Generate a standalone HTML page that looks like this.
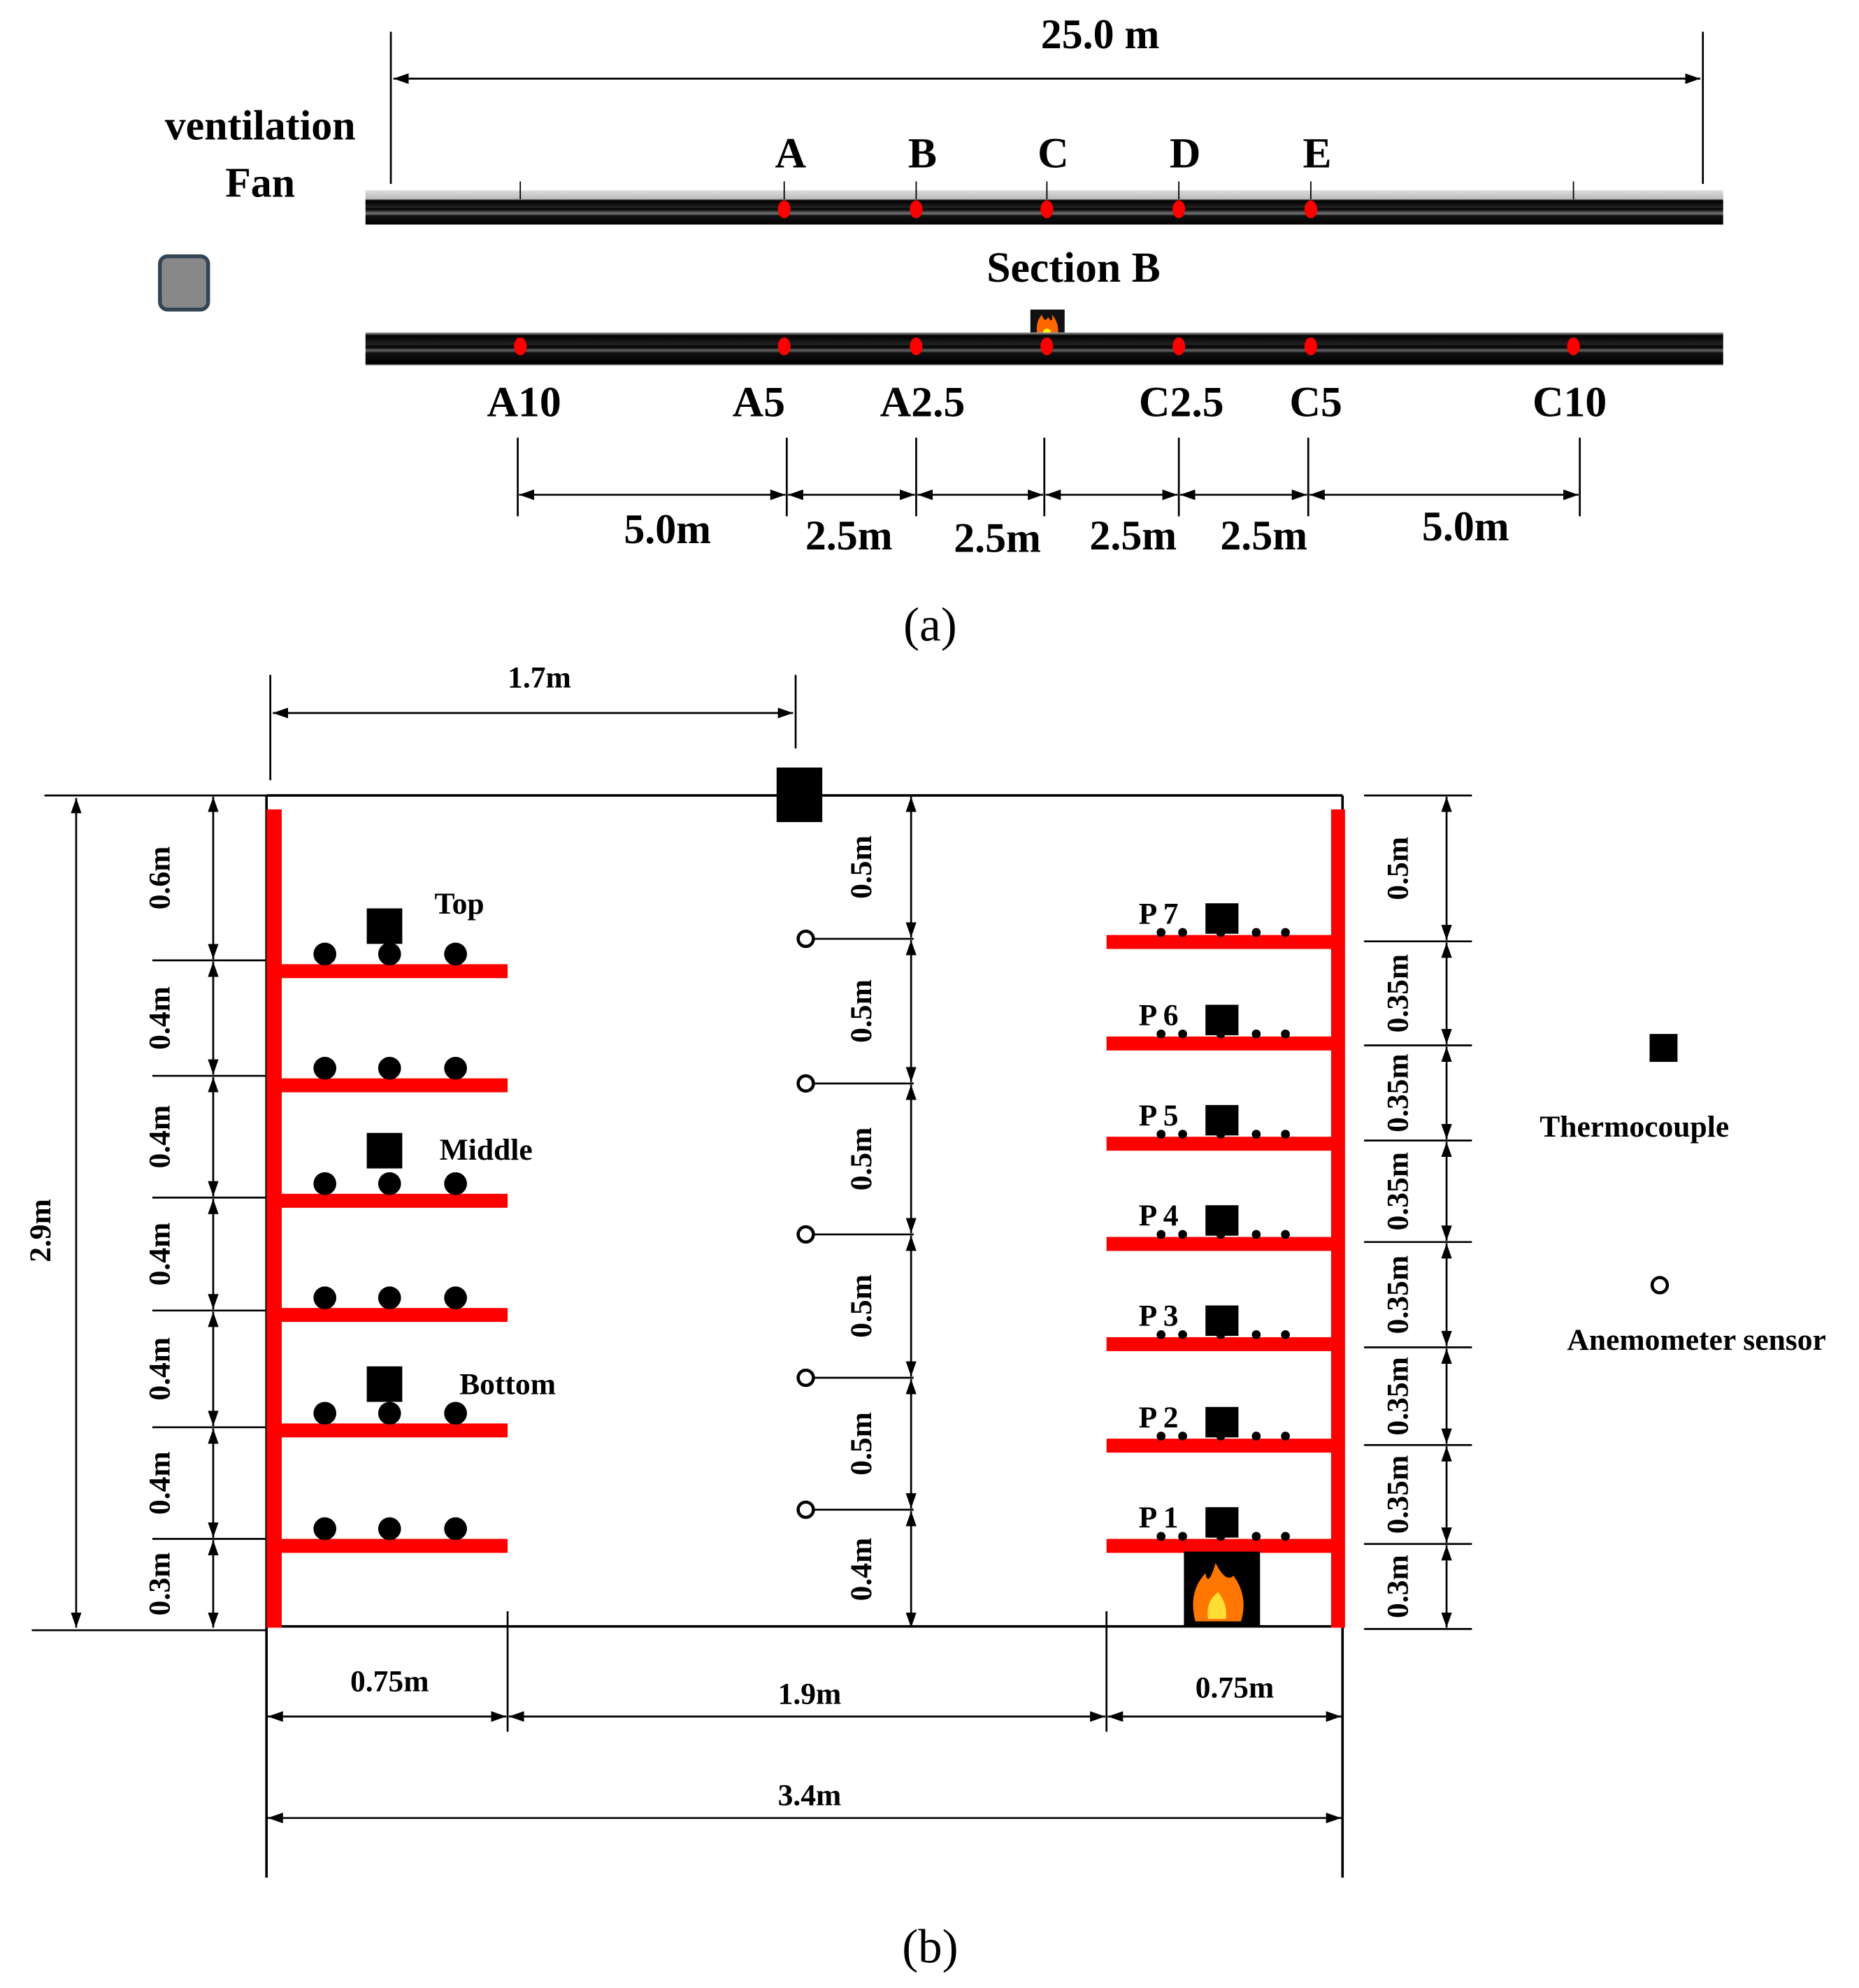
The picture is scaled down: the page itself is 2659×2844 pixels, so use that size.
<!DOCTYPE html>
<html><head><meta charset="utf-8">
<style>html,body{margin:0;padding:0;background:#fff}svg{display:block}
text{font-family:"Liberation Serif",serif;font-weight:bold;fill:#000}</style></head>
<body>
<svg id="s" width="2659" height="2844" viewBox="0 0 1465 1567" xmlns="http://www.w3.org/2000/svg">
<defs>
<marker id="ar" viewBox="0 0 10 10" refX="10" refY="5" markerWidth="7" markerHeight="7" markerUnits="userSpaceOnUse" orient="auto-start-reverse"><path d="M0,0 L10,5 L0,10z" fill="#000"/></marker>
<marker id="ab" viewBox="0 0 10 10" refX="10" refY="5" markerWidth="12" markerHeight="12" markerUnits="userSpaceOnUse" orient="auto-start-reverse"><path d="M0,1.5 L10,5 L0,8.5z" fill="#000"/></marker>
<linearGradient id="tg" x1="0" y1="0" x2="0" y2="1">
<stop offset="0" stop-color="#ddd"/><stop offset="0.25" stop-color="#bbb"/><stop offset="0.3" stop-color="#000"/><stop offset="0.5" stop-color="#222"/><stop offset="0.55" stop-color="#000"/><stop offset="0.68" stop-color="#777"/><stop offset="0.74" stop-color="#111"/><stop offset="1" stop-color="#000"/></linearGradient>
<linearGradient id="tg2" x1="0" y1="0" x2="0" y2="1">
<stop offset="0" stop-color="#aaa"/><stop offset="0.1" stop-color="#000"/><stop offset="0.35" stop-color="#222"/><stop offset="0.45" stop-color="#000"/><stop offset="0.55" stop-color="#666"/><stop offset="0.62" stop-color="#111"/><stop offset="0.95" stop-color="#000"/><stop offset="1" stop-color="#aaa"/></linearGradient>
</defs>
<g id="g"></g>
</svg>
<script>
var o='';
function L(x1,y1,x2,y2,w,a){o+='<line x1="'+x1+'" y1="'+y1+'" x2="'+x2+'" y2="'+y2+'" stroke="#000" stroke-width="'+(w||1.5)+'"'+(a?' marker-start="url(#'+a+')" marker-end="url(#'+a+')"':'')+'/>';}
function R(x,y,w,h,f){o+='<rect x="'+x+'" y="'+y+'" width="'+w+'" height="'+h+'" fill="'+f+'"/>';}
function C(x,y,r,f,s){o+='<circle cx="'+x+'" cy="'+y+'" r="'+r+'" fill="'+f+'"'+(s?' stroke="#000" stroke-width="2.5"':'')+'/>';}
function T(x,y,t,sz,rot,nb){o+='<text x="'+x+'" y="'+y+'" font-size="'+sz+'" text-anchor="middle"'+(rot?' transform="rotate(-90 '+x+' '+y+')" dominant-baseline="middle"':'')+(nb?' style="font-weight:normal"':'')+'>'+t+'</text>';}
// part a
L(308,25,308,145);L(1342,25,1342,145);L(310,62,1340,62,1.5,'ab');
T(867,38,'25.0 m',33);T(205,110,'ventilation',33);T(205,155,'Fan',33);
R(288,150,1070,27,'url(#tg)');
[410,618,722,825,929,1033,1240].forEach(function(x){L(x,143,x,157,1)});
var tx=[618,722,825,929,1033],tl='ABCDE';
tx.forEach(function(x,i){o+='<ellipse cx="'+x+'" cy="165" rx="5" ry="7" fill="red"/>';T(x+5,132,tl[i],34)});
o+='<rect x="126" y="202" width="38" height="42" rx="6" fill="#888" stroke="#345" stroke-width="3"/>';
T(846,222,'Section B',34);
R(812,244,27,24,'#111');o+='<path d="M818,266 Q815,255 821,248 Q823,255 826,250 Q830,256 829,248 Q836,256 833,266z" fill="#f60"/><circle cx="825" cy="262" r="3" fill="#ff0"/>';
R(288,262,1070,26,'url(#tg2)');
[410,618,722,825,929,1033,1240].forEach(function(x){o+='<ellipse cx="'+x+'" cy="273" rx="5" ry="7" fill="red"/>'});
[[413,'A10'],[598,'A5'],[727,'A2.5'],[931,'C2.5'],[1037,'C5'],[1237,'C10']].forEach(function(a){T(a[0],328,a[1],34)});
var vx=[408,620,722,823,929,1031,1245];vx.forEach(function(x){L(x,345,x,407)});
for(var i=0;i<6;i++)L(vx[i]+1,390,vx[i+1]-1,390,1.5,'ab');
[[526,428,'5.0m'],[669,433,'2.5m'],[786,435,'2.5m'],[893,433,'2.5m'],[996,433,'2.5m'],[1155,426,'5.0m']].forEach(function(a){T(a[0],a[1],a[2],33)});
T(733,505,'(a)',38,0,1);
// part b
L(213,532,213,615);L(627,532,627,590);L(215,562,625,562,1.5,'ab');T(425,542,'1.7m',24);
L(210,627,1058,627,2);L(210,627,210,1480,2);L(1058,627,1058,1480,2);L(210,1282,1058,1282,2);
L(35,627,210,627);L(25,1285,210,1285);L(60,629,60,1283,1.5,'ab');T(34,970,'2.9m',24,1);
R(210,638,12,645,'red');
[765,855,946,1036,1127,1218].forEach(function(y){R(218,y-5,182,11,'red');[256,307,359].forEach(function(x){C(x,y-13,9,'#000')})});
R(289,716,28,28,'#000');R(289,893,28,28,'#000');R(289,1077,28,28,'#000');
T(362,720,'Top',24);T(383,914,'Middle',24);T(400,1099,'Bottom',24);
var ly=[627,757,848,944,1033,1125,1213,1284],ll=['0.6m','0.4m','0.4m','0.4m','0.4m','0.4m','0.3m'];
ly.forEach(function(y,i){if(i>0&&i<7)L(120,y,210,y)});
for(i=0;i<7;i++){L(168,ly[i]+1,168,ly[i+1]-1,1.5,'ab');T(128,(ly[i]+ly[i+1])/2,ll[i],24,1)}
R(612,605,36,43,'#000');
var cy=[627,740,854,973,1086,1190,1284],cl=['0.5m','0.5m','0.5m','0.5m','0.5m','0.4m'];
[740,854,973,1086,1190].forEach(function(y){C(635,y,6,'#fff',1);L(641,y,720,y)});
for(i=0;i<6;i++){L(718,cy[i]+1,718,cy[i+1]-1,1.5,'ab');T(681,(cy[i]+cy[i+1])/2,cl[i],24,1)}
R(1049,638,11,645,'red');
[742,822,901,980,1059,1139,1218].forEach(function(y,i){R(872,y-5,186,11,'red');R(950,y-30,26,24,'#000');
[915,932,962,990,1013].forEach(function(x){C(x,y-7,3.5,'#000')});T(913,y-14,'P '+(7-i),24)});
R(933,1223,60,59,'#000');o+='<path d="M942,1278 Q936,1255 950,1240 Q952,1252 958,1232 Q966,1248 972,1242 Q984,1258 978,1278z" fill="#f70"/><path d="M952,1276 Q950,1262 960,1255 Q968,1265 966,1276z" fill="#fd3"/>';
var ry=[627,742,824,899,979,1062,1139,1217,1284],rl=['0.5m','0.35m','0.35m','0.35m','0.35m','0.35m','0.35m','0.3m'];
ry.forEach(function(y){L(1075,y,1160,y)});
for(i=0;i<8;i++){L(1140,ry[i]+1,1140,ry[i+1]-1,1.5,'ab');T(1104,(ry[i]+ry[i+1])/2,rl[i],24,1)}
R(1300,815,22,22,'#000');T(1288,896,'Thermocouple',24);C(1308,1013,6,'#fff',1);T(1337,1064,'Anemometer sensor',24);
L(400,1270,400,1365);L(872,1270,872,1365);
L(211,1353,399,1353,1.5,'ab');L(401,1353,871,1353,1.5,'ab');L(873,1353,1057,1353,1.5,'ab');
T(307,1333,'0.75m',24);T(638,1343,'1.9m',24);T(973,1338,'0.75m',24);
L(211,1433,1057,1433,1.5,'ab');T(638,1423,'3.4m',24);
T(733,1547,'(b)',38,0,1);
document.getElementById('g').innerHTML=o;
</script>
</body></html>
